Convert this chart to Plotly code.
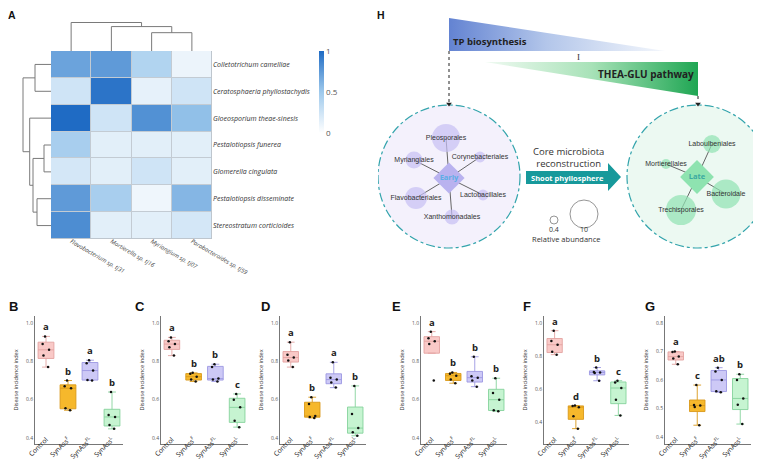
import plotly.graph_objects as go

W, H = 761, 461
def fx(p): return p / W
def fy(p): return 1 - p / H

# ---------------- data ----------------
fungi = ["Colletotrichum camelliae", "Ceratosphaeria phyllostachydis", "Gloeosporium theae-sinesis",
         "Pestalotiopsis funerea", "Glomerella cingulata", "Pestalotiopsis disseminate",
         "Stereostratum corticioides"]
bacteria = ["Flavobacterium sp. tj31", "Mortierella sp. tj16", "Myriangium sp. tj07", "Parabacteroides sp. tj59"]
inhibition = [
    [0.70, 0.75, 0.40, 0.10],
    [0.25, 0.95, 0.13, 0.25],
    [1.00, 0.25, 0.80, 0.55],
    [0.45, 0.15, 0.15, 0.15],
    [0.22, 0.15, 0.25, 0.15],
    [0.75, 0.45, 0.08, 0.60],
    [0.82, 0.15, 0.15, 0.22],
]
# dendrogram linkages (child a, child b, height)
col_link_a = [2, 1, 0]
col_link_b = [3, 4, 5]
col_link_h = [18, 24, 28]
row_link_a = [3, 5, 0, 7, 2, 9]
row_link_b = [4, 6, 1, 8, 10, 11]
row_link_h = [7, 14, 16, 18, 21.3, 28]

groups = ["Control", "SynAss<sup>F</sup>", "SynAss<sup>FL</sup>", "SynAss<sup>L</sup>"]
panel_ids = ["B", "C", "D", "E", "F", "G"]
vals_B = [[0.93, 0.89, 0.86, 0.83, 0.77], [0.70, 0.67, 0.66, 0.555, 0.545],
          [0.806, 0.79, 0.752, 0.703, 0.70], [0.64, 0.52, 0.51, 0.468, 0.448]]
vals_C = [[0.925, 0.905, 0.89, 0.873, 0.83], [0.74, 0.735, 0.72, 0.705, 0.695],
          [0.785, 0.77, 0.71, 0.705, 0.695], [0.63, 0.60, 0.56, 0.49, 0.457]]
vals_D = [[0.90, 0.835, 0.82, 0.805, 0.77], [0.613, 0.578, 0.515, 0.51, 0.505],
          [0.795, 0.715, 0.705, 0.69, 0.663], [0.672, 0.525, 0.452, 0.43, 0.412]]
vals_E = [[0.955, 0.92, 0.905, 0.89, 0.70], [0.742, 0.735, 0.725, 0.705, 0.686],
          [0.824, 0.722, 0.715, 0.70, 0.668], [0.712, 0.635, 0.60, 0.545, 0.54]]
vals_F = [[0.953, 0.89, 0.868, 0.825, 0.808], [0.50, 0.497, 0.49, 0.435, 0.36],
          [0.73, 0.703, 0.70, 0.697, 0.65], [0.65, 0.64, 0.606, 0.535, 0.44]]
vals_G = [[0.70, 0.698, 0.682, 0.675, 0.655], [0.582, 0.512, 0.51, 0.505, 0.441],
          [0.643, 0.63, 0.60, 0.56, 0.557], [0.62, 0.60, 0.535, 0.513, 0.445]]
letters_B = ["a", "b", "a", "b"]
letters_C = ["a", "b", "b", "c"]
letters_D = ["a", "b", "a", "b"]
letters_E = ["a", "b", "b", "b"]
letters_F = ["a", "d", "b", "c"]
letters_G = ["a", "c", "ab", "b"]
yticks_BE = [0.4, 0.6, 0.8, 1.0]
yticks_F = [0.4, 0.6, 0.8, 1.0]
yticks_G = [0.4, 0.5, 0.6, 0.7, 0.8]

early_taxa = ["Pleosporales", "Corynebacteriales", "Myriangiales", "Flavobacteriales",
              "Lactobacillales", "Xanthomonadales"]
early_abund = [10.0, 1.8, 4.7, 7.1, 1.8, 3.7]
late_taxa = ["Laboulbeniales", "Mortierellales", "Bacteroidale", "Trechisporales"]
late_abund = [5.2, 1.3, 10.5, 11.0]
legend_abund = [0.4, 10]

# ---------------- styling / layout ----------------
FONT = "Open Sans"
ARIAL = "Liberation Sans"
box_fill = ["#f9c9c7", "#f6b82c", "#cdc9f6", "#c6f4d1"]
box_line = ["#e3a3a0", "#d9981a", "#9c97e2", "#86d39c"]
box_dom_x = [(27, 115), (153, 240), (272, 358), (413, 499), (536, 621), (657, 743)]
box_yrange = [(0.369, 1.0365), (0.369, 1.0365), (0.369, 1.0365), (0.369, 1.0365), (0.267, 1.042), (0.375, 0.8246)]
panel_lab_x = [5, 132, 257, 388, 519, 642]

early_pos = [(438, 130), (472, 149), (406, 152), (408, 190), (475, 187), (444, 209)]
late_pos = [(704, 136), (658, 156), (718, 186), (673, 202)]
early_hub = (441, 170)
late_hub = (689, 169)

def diam(v):
    return 8 + (v - 0.4) * 20 / 9.6

fig = go.Figure()
annotations = []
shapes = []

# ---- heatmap ----
fig.add_trace(go.Heatmap(
    z=inhibition, x=list(range(len(bacteria))), y=list(range(len(fungi))),
    colorscale=[[0, "#ffffff"], [0.5, "#9ec9ec"], [1, "#1f6bc4"]], zmin=0, zmax=1,
    xgap=1, ygap=1, xaxis="x", yaxis="y", hoverinfo="skip",
    colorbar=dict(x=fx(311), xanchor="left", y=fy(43), yanchor="top", len=82, lenmode="pixels",
                  thickness=5, xpad=0, ypad=0, tickvals=[0, 0.5, 1], ticktext=["0", "0.5", "1"], ticks="",
                  outlinewidth=0, tickfont=dict(size=8, color="#555", family=FONT))))
shapes.append(dict(type="rect", xref="x", yref="y", x0=-0.5, x1=3.5, y0=-0.5, y1=6.5,
                   fillcolor="#c3cbd3", line=dict(width=1, color="#b9c1c9"), layer="below"))

def dendro(la, lb, lh, n):
    pos = {i: float(i) for i in range(n)}
    hgt = {i: 0.0 for i in range(n)}
    xs, ys = [], []
    for k, (a, b, h) in enumerate(zip(la, lb, lh)):
        xs += [pos[a], pos[a], pos[b], pos[b], None]
        ys += [hgt[a], h, h, hgt[b], None]
        pos[n + k] = (pos[a] + pos[b]) / 2
        hgt[n + k] = h
    return xs, ys

cx, cy = dendro(col_link_a, col_link_b, col_link_h, len(bacteria))
fig.add_trace(go.Scatter(x=cx, y=cy, mode="lines", line=dict(color="#7a7a7a", width=1),
                         xaxis="x2", yaxis="y2", hoverinfo="skip"))
rx, ry = dendro(row_link_a, row_link_b, row_link_h, len(fungi))
fig.add_trace(go.Scatter(x=ry, y=rx, mode="lines", line=dict(color="#7a7a7a", width=1),
                         xaxis="x3", yaxis="y3", hoverinfo="skip"))

layout_axes = {}
layout_axes["xaxis"] = dict(domain=[fx(43), fx(204)], anchor="y", range=[-0.5, 3.5], automargin=False,
                            tickvals=list(range(4)), ticktext=["<i>%s</i>" % b for b in bacteria],
                            tickangle=30, tickfont=dict(size=6, color="#444", family=FONT),
                            ticklabelstandoff=-3,
                            showgrid=False, zeroline=False, ticks="", showline=False)
layout_axes["yaxis"] = dict(domain=[fy(231), fy(43)], anchor="x", range=[6.5, -0.5], side="right",
                            automargin=False,
                            tickvals=list(range(7)), ticktext=["<i>%s</i>" % f for f in fungi],
                            tickfont=dict(size=7, color="#333", family=FONT),
                            showgrid=False, zeroline=False, ticks="", showline=False)
layout_axes["xaxis2"] = dict(domain=[fx(43), fx(204)], anchor="y2", range=[-0.5, 3.5], visible=False)
layout_axes["yaxis2"] = dict(domain=[fy(43), fy(14)], anchor="x2", range=[0, 28.5], visible=False)
layout_axes["xaxis3"] = dict(domain=[fx(14), fx(43)], anchor="y3", range=[29, 0], visible=False)
layout_axes["yaxis3"] = dict(domain=[fy(231), fy(43)], anchor="x3", range=[6.5, -0.5], visible=False)

# ---- panel H ----
layout_axes["xaxis4"] = dict(domain=[fx(370), 1], anchor="y4", range=[370, 761], visible=False)
layout_axes["yaxis4"] = dict(domain=[fy(245), 1], anchor="x4", range=[245, 0], visible=False)

for (ccx, fill) in [(441, "#f4f1fc"), (690, "#ecf9f2")]:
    shapes.append(dict(type="circle", xref="x4", yref="y4", x0=ccx - 71, x1=ccx + 71, y0=97, y1=240,
                       fillcolor=fill, line=dict(color="#33a4ac", width=1.2, dash="dashdot"),
                       layer="below"))

fig.add_trace(go.Scatter(x=[441, 441, 657, 441], y=[10, 43, 43, 10], fill="toself", mode="lines",
                         line=dict(width=0),
                         fillgradient=dict(type="horizontal",
                                           colorscale=[[0, "#6383d2"], [0.45, "#b3c6ea"], [1, "#f4f7fc"]]),
                         xaxis="x4", yaxis="y4", hoverinfo="skip"))
fig.add_trace(go.Scatter(x=[477, 690, 690, 477], y=[54, 54, 88, 54], fill="toself", mode="lines",
                         line=dict(width=0),
                         fillgradient=dict(type="horizontal",
                                           colorscale=[[0, "#f0faf2"], [0.5, "#a8e2b8"], [1, "#1fa653"]]),
                         xaxis="x4", yaxis="y4", hoverinfo="skip"))
# dashed arrows
fig.add_trace(go.Scatter(x=[441, 441, None, 690, 690], y=[43, 94, None, 88, 94], mode="lines",
                         line=dict(color="#222", width=1, dash="dot"), xaxis="x4", yaxis="y4",
                         hoverinfo="skip"))
fig.add_trace(go.Scatter(x=[441, 690], y=[96, 96], mode="markers",
                         marker=dict(symbol="triangle-down", size=5, color="#222"),
                         xaxis="x4", yaxis="y4", hoverinfo="skip"))
# block arrow
fig.add_trace(go.Scatter(x=[518, 600, 600, 613, 600, 600, 518, 518],
                         y=[163, 163, 155, 169, 183, 176, 176, 163], fill="toself", mode="lines",
                         fillcolor="#17999b", line=dict(width=0), xaxis="x4", yaxis="y4",
                         hoverinfo="skip"))
# edges
ex, ey = [], []
for (px_, py_) in early_pos:
    ex += [early_hub[0], px_, None]
    ey += [early_hub[1], py_, None]
for (px_, py_) in late_pos:
    ex += [late_hub[0], px_, None]
    ey += [late_hub[1], py_, None]
fig.add_trace(go.Scatter(x=ex, y=ey, mode="lines", line=dict(color="#555", width=0.9),
                         xaxis="x4", yaxis="y4", hoverinfo="skip"))
# nodes
fig.add_trace(go.Scatter(x=[p[0] for p in early_pos], y=[p[1] for p in early_pos],
                         mode="markers+text", text=early_taxa, textposition="middle center",
                         textfont=dict(size=7, color="#333", family=ARIAL),
                         marker=dict(size=[diam(v) for v in early_abund], color="#c6bff4", line=dict(width=0)),
                         xaxis="x4", yaxis="y4", hoverinfo="skip"))
fig.add_trace(go.Scatter(x=[p[0] for p in late_pos], y=[p[1] for p in late_pos],
                         mode="markers+text", text=late_taxa, textposition="middle center",
                         textfont=dict(size=7, color="#333", family=ARIAL),
                         marker=dict(size=[diam(v) for v in late_abund], color="#90e2b2", line=dict(width=0)),
                         xaxis="x4", yaxis="y4", hoverinfo="skip"))
# hubs
fig.add_trace(go.Scatter(x=[early_hub[0]], y=[early_hub[1]], mode="markers+text", text=["<b>Early</b>"],
                         textposition="middle center", textfont=dict(size=7.5, color="#5aaee6", family=FONT),
                         marker=dict(symbol="diamond", size=24, color="#b9b2ef"),
                         xaxis="x4", yaxis="y4", hoverinfo="skip"))
fig.add_trace(go.Scatter(x=[late_hub[0]], y=[late_hub[1]], mode="markers+text", text=["<b>Late</b>"],
                         textposition="middle center", textfont=dict(size=7.5, color="#3aa9a0", family=FONT),
                         marker=dict(symbol="diamond", size=26, color="#8ee3b0"),
                         xaxis="x4", yaxis="y4", hoverinfo="skip"))
# size legend
fig.add_trace(go.Scatter(x=[546, 576], y=[212, 206], mode="markers",
                         marker=dict(size=[diam(v) for v in legend_abund], color="white",
                                     line=dict(color="#444", width=0.8)),
                         xaxis="x4", yaxis="y4", hoverinfo="skip"))

def a4(x, y, text, size, color="#222", family=FONT, xanchor="center", **kw):
    annotations.append(dict(xref="x4", yref="y4", x=x, y=y, text=text, showarrow=False,
                            xanchor=xanchor, yanchor="middle",
                            font=dict(size=size, color=color, family=family), **kw))

a4(443, 33, "<b>TP biosynthesis</b>", 9.5, xanchor="left")
a4(688, 66, "<b>THEA-GLU pathway</b>", 10, xanchor="right")
a4(570, 49, "I", 9, color="#333", family="Liberation Serif")
a4(560, 149, "Core microbiota<br>reconstruction", 9.5, color="#333")
a4(559, 169.5, "<b>Shoot phyllosphere</b>", 7.5, color="white")
for v, xx in zip(legend_abund, [546, 576]):
    a4(xx, 221, str(v), 7, color="#333")
a4(558, 231, "Relative abundance", 7.5, color="#333")

# ---- box panels ----
panel_vals = [vals_B, vals_C, vals_D, vals_E, vals_F, vals_G]
panel_letters = [letters_B, letters_C, letters_D, letters_E, letters_F, letters_G]
panel_ticks = [yticks_BE, yticks_BE, yticks_BE, yticks_BE, yticks_F, yticks_G]
for pi in range(6):
    ax = pi + 5
    for gi in range(4):
        v = panel_vals[pi][gi]
        fig.add_trace(go.Box(y=v, x=[gi] * len(v), width=0.72, boxpoints="all", jitter=0.5, pointpos=0,
                             fillcolor=box_fill[gi], line=dict(color=box_line[gi], width=0.9),
                             marker=dict(size=2.5, color="#111"),
                             xaxis="x%d" % ax, yaxis="y%d" % ax, hoverinfo="skip"))
        annotations.append(dict(xref="x%d" % ax, yref="y%d" % ax, x=gi, y=max(v), yanchor="bottom",
                                yshift=1, text="<b>%s</b>" % panel_letters[pi][gi], showarrow=False,
                                font=dict(size=9.5, color="#222", family=FONT)))
    x0, x1 = box_dom_x[pi]
    layout_axes["xaxis%d" % ax] = dict(domain=[fx(x0), fx(x1)], anchor="y%d" % ax, range=[-0.5, 3.5],
                                       automargin=False,
                                       tickvals=list(range(4)), ticktext=groups, tickangle=-45,
                                       tickfont=dict(size=6.8, color="#222", family=FONT),
                                       ticklabelstandoff=-12,
                                       showline=True, linecolor="#777", linewidth=1, ticks="",
                                       showgrid=False, zeroline=False)
    layout_axes["yaxis%d" % ax] = dict(domain=[fy(436), fy(308)], anchor="x%d" % ax, automargin=False,
                                       range=list(box_yrange[pi]), tickvals=panel_ticks[pi],
                                       tickformat=".1f", tickfont=dict(size=5, color="#555", family=FONT),
                                       showline=True, linecolor="#777", linewidth=1, ticks="",
                                       showgrid=False, zeroline=False,
                                       title=dict(text="Disease incidence index", standoff=7,
                                                  font=dict(size=5.5, color="#333", family=FONT)))
    annotations.append(dict(xref="paper", yref="paper", x=fx(panel_lab_x[pi]), y=fy(298),
                            text="<b>%s</b>" % panel_ids[pi], showarrow=False, xanchor="center",
                            yanchor="middle", font=dict(size=13, color="#111", family=ARIAL)))

for lab, xx, yy in [("A", 4, 7), ("H", 373, 7)]:
    annotations.append(dict(xref="paper", yref="paper", x=fx(xx), y=fy(yy), text="<b>%s</b>" % lab,
                            showarrow=False, xanchor="center", yanchor="middle",
                            font=dict(size=10.5, color="#111", family=ARIAL)))

fig.update_layout(width=W, height=H, margin=dict(l=0, r=0, t=0, b=0, autoexpand=False),
                  paper_bgcolor="white",
                  plot_bgcolor="rgba(0,0,0,0)", showlegend=False, boxmode="overlay",
                  annotations=annotations, shapes=shapes, **layout_axes)
fig.write_html("out.html")
